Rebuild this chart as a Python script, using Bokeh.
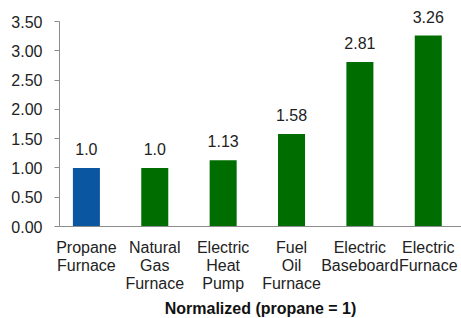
from bokeh.plotting import figure
from bokeh.models import ColumnDataSource, Range1d, FixedTicker, NumeralTickFormatter, LabelSet
from bokeh.core.properties import value
from bokeh.embed import file_html
from bokeh.resources import INLINE

categories = ["Propane\nFurnace", "Natural\nGas\nFurnace", "Electric\nHeat\nPump",
              "Fuel\nOil\nFurnace", "Electric\nBaseboard", "Electric\nFurnace"]
values = [1.0, 1.0, 1.13, 1.58, 2.81, 3.26]
value_labels = ["1.0", "1.0", "1.13", "1.58", "2.81", "3.26"]
y_ticks = [0.0, 0.5, 1.0, 1.5, 2.0, 2.5, 3.0, 3.5]
x_title = "Normalized (propane = 1)"

FONT = "Liberation Sans"
BLUE = "#0b56a1"
GREEN = "#006d00"
TEXT = "#222222"
AXIS = "#8c8c8c"

xs = list(range(len(categories)))
colors = [BLUE if i == 0 else GREEN for i in xs]
src = ColumnDataSource(dict(x=xs, top=values, lab=value_labels, color=colors))

p = figure(frame_width=402, frame_height=226,
           x_range=Range1d(-0.3934, 5.486), y_range=Range1d(0, 3.859),
           output_backend="svg", toolbar_location=None,
           min_border_left=59, min_border_right=0, min_border_top=0, min_border_bottom=92)
p.outline_line_color = None
p.background_fill_color = "white"
p.border_fill_color = "white"
p.grid.visible = False

p.vbar(x="x", top="top", width=0.395, fill_color="color", line_color=None, source=src)

labels = LabelSet(x="x", y="top", text="lab", source=src, text_align="center",
                  text_baseline="alphabetic", y_offset=13, text_font=value(FONT),
                  text_font_size="16px", text_color=TEXT)
p.add_layout(labels)

# y axis
p.yaxis.bounds = (0, 3.5)
p.yaxis.ticker = FixedTicker(ticks=y_ticks)
p.yaxis.formatter = NumeralTickFormatter(format="0.00")
p.yaxis.minor_tick_line_color = None
p.yaxis.major_tick_out = 5
p.yaxis.major_tick_in = 0
p.yaxis.major_label_standoff = 12
p.yaxis.axis_line_color = AXIS
p.yaxis.major_tick_line_color = AXIS
p.yaxis.major_label_text_font = FONT
p.yaxis.major_label_text_font_size = "16px"
p.yaxis.major_label_text_color = TEXT

# x axis
p.xaxis.ticker = FixedTicker(ticks=xs)
p.xaxis.major_label_overrides = {i: c for i, c in zip(xs, categories)}
p.xaxis.minor_tick_line_color = None
p.xaxis.major_tick_line_color = None
p.xaxis.major_tick_out = 0
p.xaxis.major_tick_in = 0
p.xaxis.major_label_standoff = 12
p.xaxis.axis_line_color = AXIS
p.xaxis.major_label_text_font = FONT
p.xaxis.major_label_text_font_size = "16px"
p.xaxis.major_label_text_color = TEXT
p.xaxis.major_label_text_line_height = 1.06
p.xaxis.axis_label = x_title
p.xaxis.axis_label_text_font = FONT
p.xaxis.axis_label_text_font_size = "16px"
p.xaxis.axis_label_text_font_style = "bold"
p.xaxis.axis_label_text_color = "#111111"
p.xaxis.axis_label_standoff = 5

open("out.html", "w").write(file_html(p, INLINE))
